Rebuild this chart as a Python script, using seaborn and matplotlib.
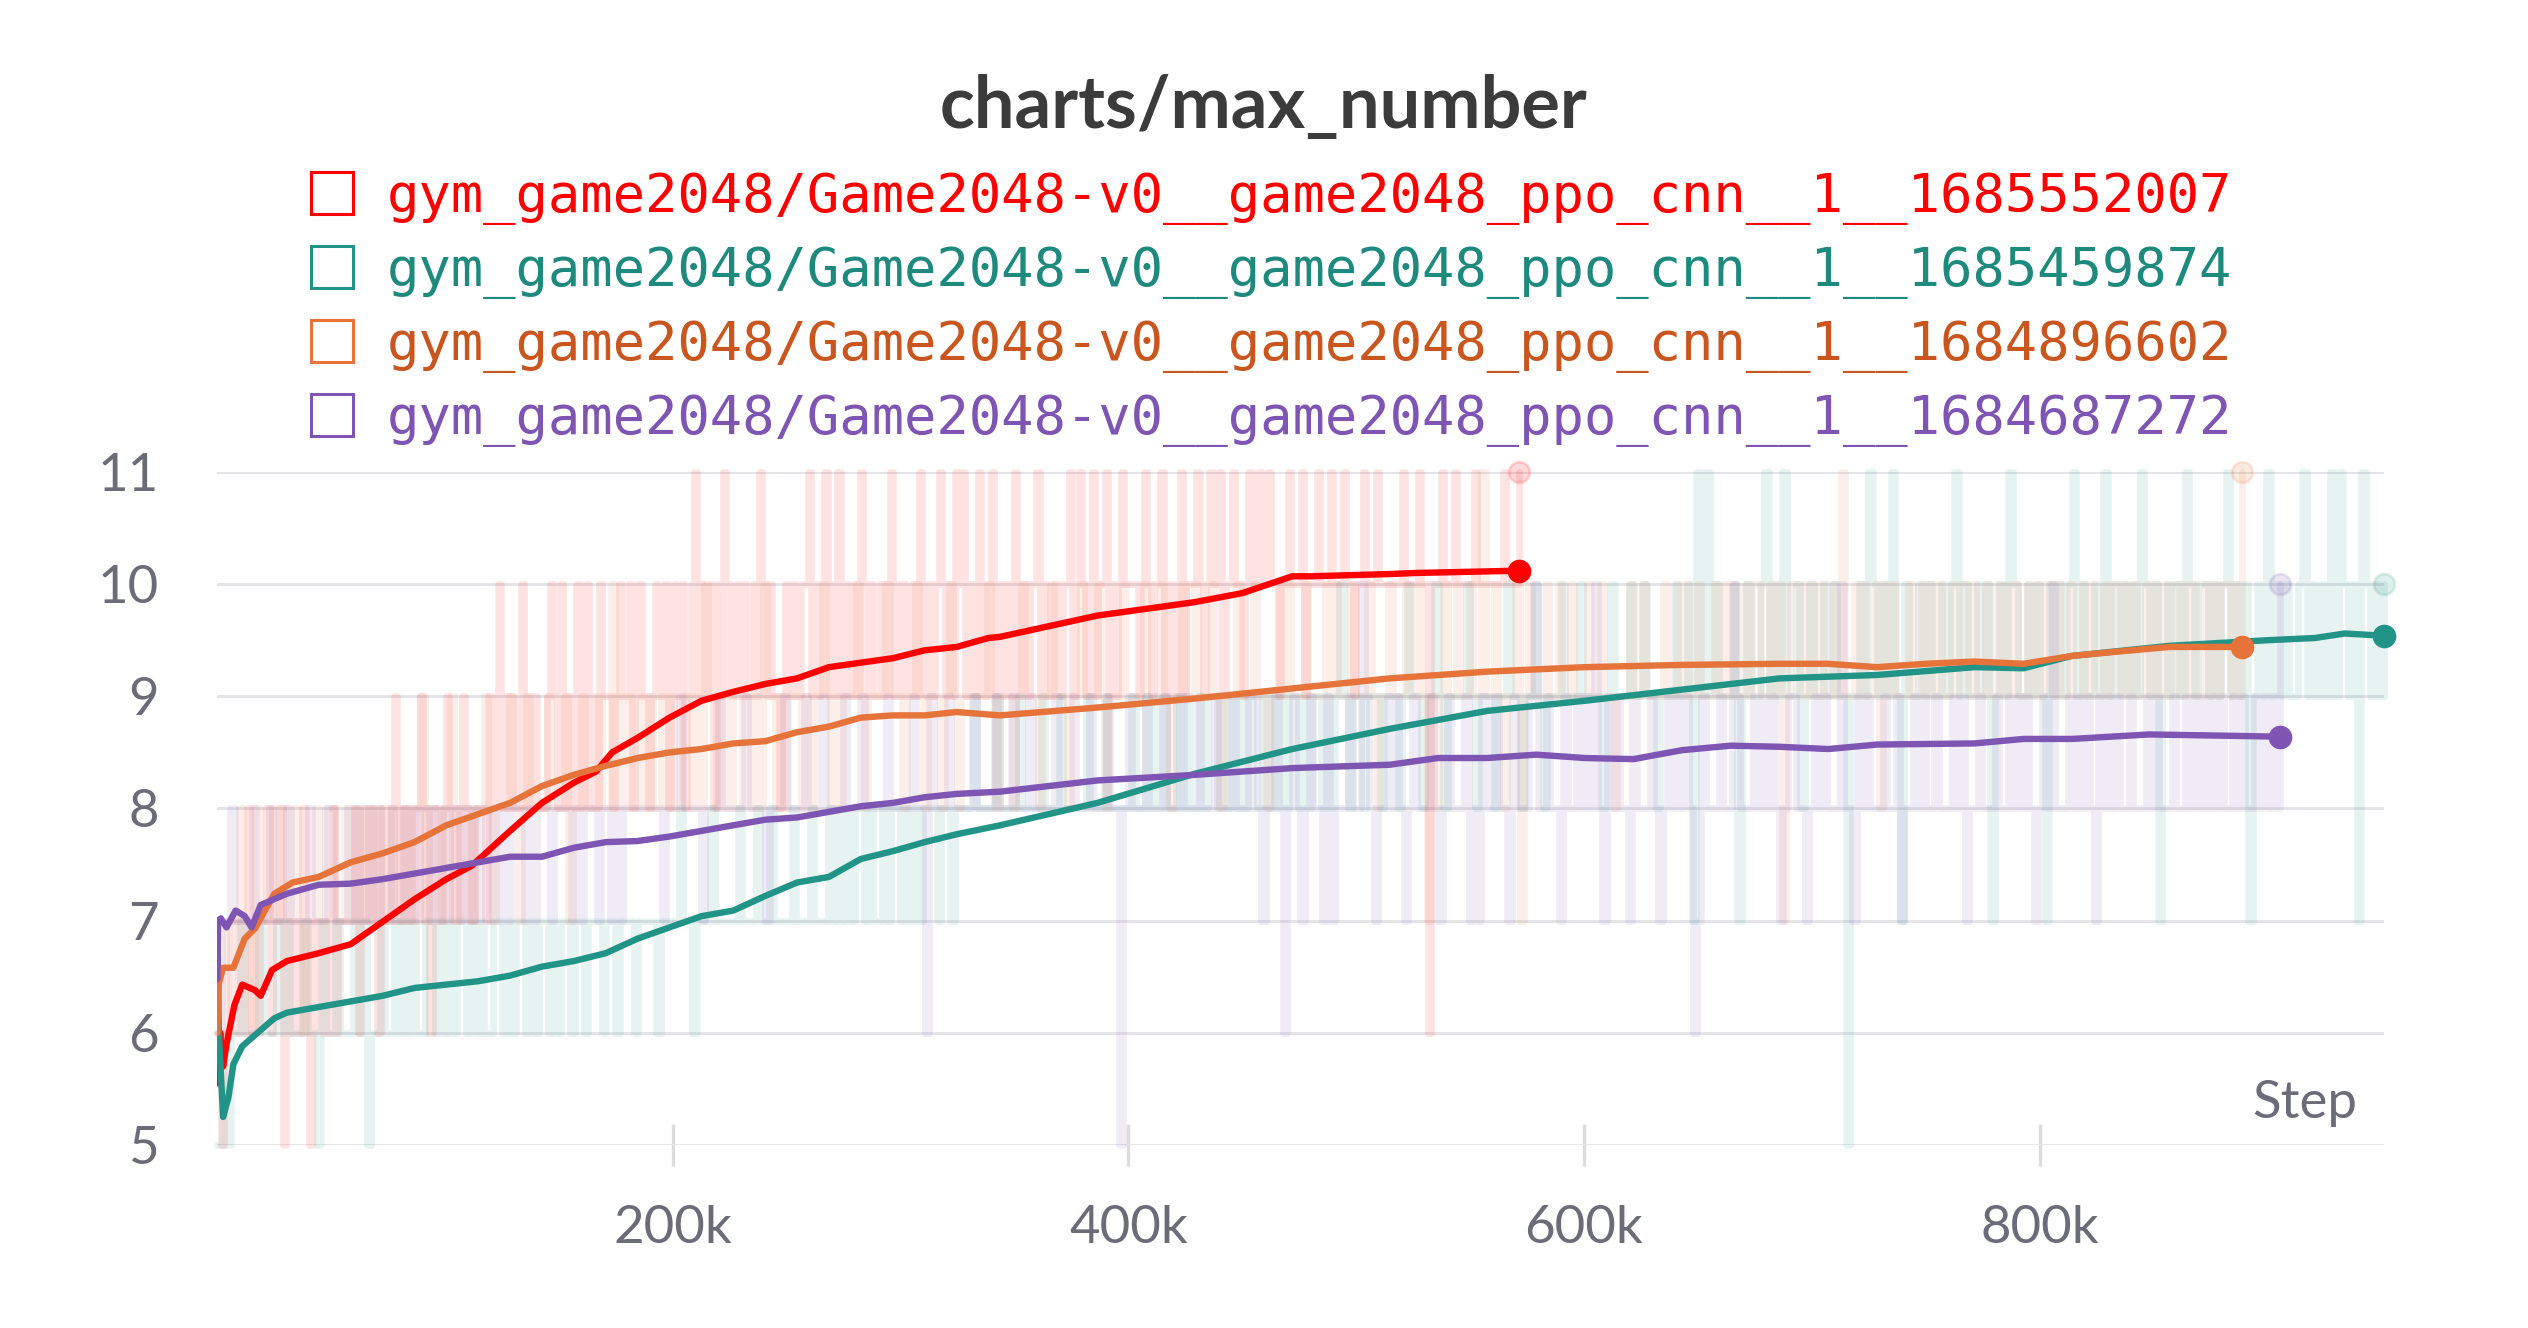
import numpy as np
import pandas as pd
import seaborn as sns
import matplotlib.pyplot as plt
from matplotlib.lines import Line2D

# run names + colours (line colour, legend text colour)
runs = ["gym_game2048/Game2048-v0__game2048_ppo_cnn__1__1685552007",
        "gym_game2048/Game2048-v0__game2048_ppo_cnn__1__1685459874",
        "gym_game2048/Game2048-v0__game2048_ppo_cnn__1__1684896602",
        "gym_game2048/Game2048-v0__game2048_ppo_cnn__1__1684687272"]
line_colors = ["#ff0000", "#229487", "#e5733a", "#7e55b3"]
text_colors = ["#ff0000", "#1e8a7d", "#c9561f", "#7e55b3"]
last_step = [571600, 951200, 889100, 905400]

# raw max_number values (hex digit per logged step: a=10, b=11)
red_raw = ("6566776768766778677857676687567767686777"
           "7786787876878797878778978687789878798778"
           "887989a898988a98998889a98a8998a89a898a99"
           "989a99a89a9989a99a89a9a89ab9a99a8a9ba99a"
           "9a99a9ba9a9989a9a99aab9a9ab9a9b9aa9a9ba9"
           "a99a9ab9a9a99a9ba9a9aba9a9bab9aa9ba9ab9a"
           "9aa9ba9a9aab9a99aa9aab9aba9ab9aab9a9abaa"
           "aa9aba9aab9aa9ab9aaaba9abaab9aabaa9abaab"
           "aabaa9aabaaab9aaabaaabaaabaa9aabaaabaaaa"
           "aaabaaaabaa6aaabaaabaaaaabaaaaaaaabaaaab")
teal_raw = ("5656676667666767666766576676667675667667"
            "6767667767676776767667767677676776767767"
            "7677767767776777767777877677787777787778"
            "7787777877787778787878878778788787878887"
            "8878888988889888898888988898888898889888"
            "8898898989889898898998989898988989898998"
            "98998989a98998999899989a99899a989999a989"
            "99899a99899a98999a999a999989a999a99a9989"
            "99a99a7b9b9a999a79a99ab9a9b99a89a99a9a99"
            "599a9ba9a9b97a99a9a99a9ab9a99a9a79a9ba99"
            "a9a97a9a9ab9a99a9b9a9a9a9ba9a79a9a9ba9aa"
            "9a9ab9a9a79a9b9a9a99ab9a9a9b9ba9a7ba9a9a")
orange_raw = ("6677787768777878878767787788778787878787"
              "7887878897888789788878898788898789888898"
              "8897889888988a898988989889898899898a9989"
              "898899898a9989899989899a9898999a989999a9"
              "99899a9899989a98999999a9899989a999899a99"
              "9899a999a98999a9999a999a9899a99a999a9899"
              "9a999a99899a9a999a9999a9a999a999a9899a99"
              "9a99a97989a99a99a99b99a9899a79a999a99a99"
              "a999a99a998999a99a9999a99a9a99a999a9a9a9"
              "9a9aa99a9a79aa9a9a9a99a9b99a9a99a8a9a999"
              "a99a9a9a99a9aa9a99a99a9a9a99a9a9aa9a99a9"
              "9a9a99a9aa9a9a99a9a9a9aa9a9a99a9a9aa9a9b")
purple_raw = ("6778777787778777877778777887778787787877"
              "8778787887878788787878878787888787888788"
              "8878788878878788888888878889888878889888"
              "8898888788898888988898888988898888898888"
              "8988698889888889888898889888988888988898"
              "8898889885898889888988898889888988898889"
              "9878898689878988797888988a98788989878988"
              "8987898889787988988798889a8898879889898a"
              "8798988798889878989898679888988a98889898"
              "9878998878989888a88798988898897889898898"
              "8898978898889889898987898a88898989879898"
              "98898889898889889898989898898988989898a")
raw_strings = [red_raw, teal_raw, orange_raw, purple_raw]

# smoothed curves (step in thousands, value)
red_k = [0, 1.2, 2.5, 4, 7.5, 10.9, 16.5, 19, 24, 30.5, 44.5, 58.5, 72.5, 86.5, 100.5,
         111.7, 128.5, 142.5, 156.5, 166.3, 173.3, 184.5, 198.5, 212.5, 226.5, 240.5,
         254.5, 268.5, 282.5, 296.6, 310.5, 324.5, 338.5, 343.6, 386.4, 429.2, 450,
         471.9, 480, 514.7, 527, 571.6]
red_y = [5.55, 6.0, 5.7, 5.9, 6.25, 6.43, 6.38, 6.33, 6.56, 6.64, 6.71, 6.79, 6.99,
         7.19, 7.37, 7.49, 7.8, 8.05, 8.23, 8.33, 8.5, 8.63, 8.81, 8.96, 9.04, 9.11,
         9.16, 9.26, 9.3, 9.34, 9.41, 9.44, 9.52, 9.53, 9.72, 9.84, 9.92, 10.07, 10.07,
         10.09, 10.1, 10.12]
teal_k = [0, 0.6, 2.5, 4.8, 7, 10.9, 16.5, 25, 30.5, 44.5, 58.5, 72.5, 86.5, 100.5,
          114.5, 128.5, 142.5, 156.5, 170.5, 184.5, 198.5, 212.5, 226.5, 240.5, 254.5,
          268.5, 282.5, 296.6, 310.5, 324.5, 343.6, 386.4, 429.2, 471.9, 514.7, 557.5,
          600.3, 643.1, 685.9, 728.7, 771.5, 793, 814.2, 857, 900, 921, 934, 951.2]
teal_y = [7.0, 6.0, 5.25, 5.42, 5.72, 5.88, 5.98, 6.13, 6.18, 6.23, 6.28, 6.33, 6.4,
          6.43, 6.46, 6.51, 6.59, 6.64, 6.71, 6.84, 6.94, 7.04, 7.09, 7.22, 7.34, 7.39,
          7.55, 7.62, 7.7, 7.77, 7.85, 8.05, 8.31, 8.53, 8.71, 8.87, 8.96, 9.06, 9.16,
          9.19, 9.26, 9.25, 9.36, 9.45, 9.5, 9.52, 9.56, 9.54]
orange_k = [0, 0.5, 2.5, 7, 12, 16.5, 25, 33, 44.5, 58.5, 72.5, 86.5, 100.5, 114.5,
            128.5, 142.5, 156.5, 170.5, 184.5, 198.5, 212.5, 226.5, 240.5, 254.5, 268.5,
            282.5, 296.6, 310.5, 324.5, 343.6, 386.4, 429.2, 471.9, 514.7, 557.5, 600.3,
            643.1, 685.9, 707, 728.7, 750, 771.5, 793, 814.2, 835, 857, 889.1]
orange_y = [6.0, 6.43, 6.58, 6.58, 6.84, 6.93, 7.24, 7.34, 7.39, 7.52, 7.6, 7.7, 7.85,
            7.95, 8.05, 8.2, 8.3, 8.38, 8.45, 8.5, 8.53, 8.58, 8.6, 8.68, 8.73, 8.81,
            8.83, 8.83, 8.86, 8.83, 8.9, 8.98, 9.07, 9.16, 9.22, 9.26, 9.28, 9.29, 9.29,
            9.26, 9.29, 9.31, 9.29, 9.36, 9.4, 9.44, 9.44]
purple_k = [0, 0.3, 1.5, 4, 8, 12, 15, 19, 30.5, 44.5, 58.5, 72.5, 86.5, 100.5, 114.5,
            128.5, 142.5, 156.5, 170.5, 184.5, 198.5, 212.5, 226.5, 240.5, 254.5, 268.5,
            282.5, 296.6, 310.5, 324.5, 343.6, 386.4, 429.2, 471.9, 514.7, 536, 557.5,
            579, 600.3, 621.7, 643.1, 664.5, 685.9, 707.3, 728.7, 771.5, 793, 814.2,
            848, 878, 905.4]
purple_y = [6.48, 7.0, 7.02, 6.94, 7.09, 7.04, 6.94, 7.14, 7.24, 7.32, 7.33, 7.37, 7.42,
            7.47, 7.52, 7.57, 7.57, 7.65, 7.7, 7.71, 7.75, 7.8, 7.85, 7.9, 7.92, 7.97,
            8.02, 8.05, 8.1, 8.13, 8.15, 8.25, 8.3, 8.36, 8.39, 8.45, 8.45, 8.48, 8.45,
            8.44, 8.52, 8.56, 8.55, 8.53, 8.57, 8.58, 8.62, 8.62, 8.66, 8.65, 8.64]
smooth = [(red_k, red_y), (teal_k, teal_y), (orange_k, orange_y), (purple_k, purple_y)]

sns.set_theme(style="white")
plt.rcParams['font.family'] = ['Lato', 'DejaVu Sans']
gray = "#6c6c78"

fig = plt.figure(figsize=(12.64, 6.64), dpi=200)
ax = fig.add_axes([0.086, 0.1378, 0.857, 0.5068])

# faint raw values
for s, c, end in zip(raw_strings, line_colors, last_step):
    vals = [int(ch, 16) for ch in s]
    steps = np.linspace(0, end, len(vals))
    sns.lineplot(x=steps, y=vals, ax=ax, color=c, lw=2.4, alpha=0.11,
                 drawstyle="steps-post", estimator=None, sort=False, clip_on=False)
    ax.plot(end, vals[-1], "o", ms=7.5, color=c, alpha=0.15, clip_on=False)

# smoothed curves with end markers
for (k, y), c in zip(smooth, line_colors):
    df = pd.DataFrame({"step": np.array(k) * 1000, "value": y})
    sns.lineplot(data=df, x="step", y="value", ax=ax, color=c, lw=2.3,
                 estimator=None, sort=False, zorder=5)
    ax.plot(df["step"].iloc[-1], y[-1], "o", ms=7.5, color=c, zorder=6, clip_on=False)

ax.set_xlim(0, 951200)
ax.set_ylim(5, 11)
ax.set_yticks(range(5, 12))
ax.set_xticks([200000, 400000, 600000, 800000])
ax.set_xticklabels(["200k", "400k", "600k", "800k"])
ax.set_xlabel("")
ax.set_ylabel("")
for sp in ax.spines.values():
    sp.set_visible(False)
ax.yaxis.grid(True, color="#e4e4e8", lw=1.0)
ax.xaxis.grid(False)
ax.tick_params(axis="x", direction="inout", length=15, width=1.2, color="#dcdcdc",
               pad=14, labelsize=19, labelcolor=gray, bottom=True)
ax.tick_params(axis="y", length=0, pad=21, labelsize=19, labelcolor=gray)
ax.text(0.9877, 0.0624, "Step", transform=ax.transAxes, ha="right", va="center",
        fontsize=19, color=gray)

fig.text(0.5, 0.919, "charts/max_number", ha="center", va="center", fontsize=26,
         fontweight="bold", color="#3b3b3b")

handles = [Line2D([], [], marker="s", linestyle="none", markersize=15,
                  markerfacecolor="none", markeredgecolor=c, markeredgewidth=1.1, color=c)
           for c in line_colors]
fig.legend(handles, runs, loc="upper left", bbox_to_anchor=(0.1207, 0.871),
           frameon=False, prop={"family": "DejaVu Sans Mono", "size": 19.4},
           labelcolor=text_colors, handlelength=1.0, handletextpad=0.52,
           labelspacing=0.37, borderpad=0, borderaxespad=0)

fig.savefig("out.png", dpi=200, facecolor="white")
